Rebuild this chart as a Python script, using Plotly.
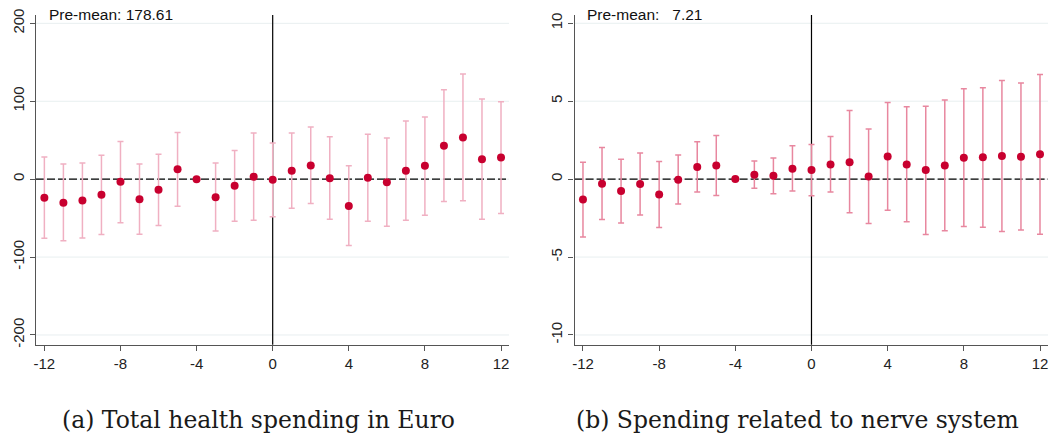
import plotly.graph_objects as go

# ---- data ----
periods = list(range(-12, 13))

total_coef = [-24.0, -30.4, -27.4, -20.1, -3.4, -25.7, -13.7, 12.8, 0.0, -23.1, -8.6, 3.0, -0.9,
              10.7, 17.6, 1.3, -34.3, 1.7, -3.9, 10.7, 17.1, 42.8, 53.5, 25.7, 27.8]
total_hi = [28.3, 19.3, 20.6, 30.8, 48.4, 19.3, 32.1, 60.0, 0.0, 20.6, 36.8, 59.1, 46.3,
            59.1, 66.8, 54.4, 17.1, 57.8, 52.7, 74.5, 79.7, 114.8, 134.9, 102.8, 99.4]
total_lo = [-75.8, -79.2, -75.4, -71.1, -55.8, -70.7, -59.5, -34.7, 0.0, -66.4, -54.0, -52.7, -48.4,
            -37.3, -31.3, -51.4, -85.2, -54.0, -60.4, -52.7, -46.3, -28.7, -27.8, -51.4, -44.1]

nerve_coef = [-1.30, -0.30, -0.77, -0.32, -0.98, -0.04, 0.77, 0.88, 0.0, 0.28, 0.21, 0.66, 0.58,
              0.94, 1.09, 0.17, 1.45, 0.94, 0.58, 0.88, 1.37, 1.41, 1.48, 1.43, 1.60]
nerve_hi = [1.09, 2.03, 1.28, 1.67, 1.13, 1.54, 2.40, 2.80, 0.0, 1.16, 1.35, 2.14, 2.22,
            2.74, 4.41, 3.21, 4.92, 4.64, 4.68, 5.07, 5.80, 5.86, 6.33, 6.16, 6.72]
nerve_lo = [-3.72, -2.59, -2.82, -2.31, -3.10, -1.60, -0.83, -1.05, 0.0, -0.58, -0.94, -0.77, -1.07,
            -0.83, -2.16, -2.84, -1.99, -2.74, -3.55, -3.32, -3.04, -3.08, -3.36, -3.27, -3.53]

x_ticks = [-12, -8, -4, 0, 4, 8, 12]
x_tick_text = ["-12", "-8", "-4", "0", "4", "8", "12"]
y_ticks_a = [-200, -100, 0, 100, 200]
y_tick_text_a = ["-200", "-100", "0", "100", "200"]
y_ticks_b = [-10, -5, 0, 5, 10]
y_tick_text_b = ["-10", "-5", "0", "5", "10"]

captions = ["(a) Total health spending in Euro", "(b) Spending related to nerve system"]
premeans = ["Pre-mean: 178.61", "Pre-mean:   7.21"]

W, H = 1055, 436
DOT = "#c8002f"
ERR_A = "#f0b0c2"
ERR_B = "#e8879f"
GRID = "#e8eff0"

fig = go.Figure()

def add_panel(coef, hi, lo, xa, ya, errcol):
    xs, ys, up, dn = [], [], [], []
    for p, c, h, l in zip(periods, coef, hi, lo):
        xs.append(p); ys.append(c)
        up.append(h - c if h != 0 or l != 0 else 0)
        dn.append(c - l if h != 0 or l != 0 else 0)
    fig.add_trace(go.Scatter(
        x=xs, y=ys, mode="markers", xaxis=xa, yaxis=ya, cliponaxis=False,
        marker=dict(color=DOT, size=8),
        error_y=dict(type="data", symmetric=False, array=up, arrayminus=dn,
                     color=errcol, thickness=1.5, width=3),
        showlegend=False, hoverinfo="skip"))

add_panel(total_coef, total_hi, total_lo, "x", "y", ERR_A)
add_panel(nerve_coef, nerve_hi, nerve_lo, "x2", "y2", ERR_B)

ytop, ybot = 15, 344.8
yd = [1 - ybot / H, 1 - ytop / H]
axfont = dict(family="Liberation Sans, Arial, sans-serif", size=15, color="#222")

common_x = dict(range=[-12.44, 12.42], tickvals=x_ticks, ticktext=x_tick_text, showgrid=False,
                zeroline=False, showline=True, linecolor="#555", linewidth=1.3, ticks="outside",
                ticklen=5, tickcolor="#555", tickfont=axfont, automargin=False)
common_y = dict(showgrid=False, zeroline=False,
                showline=True, linecolor="#555", linewidth=1.3, ticks="outside", ticklen=5,
                tickcolor="#555", tickangle=-90, tickfont=axfont, automargin=False)

fig.update_layout(
    width=W, height=H, margin=dict(l=0, r=0, t=0, b=0, autoexpand=False),
    paper_bgcolor="white", plot_bgcolor="white",
    xaxis=dict(domain=[36 / W, 509 / W], anchor="y", **common_x),
    yaxis=dict(domain=yd, anchor="x", range=[-212.6, 210.7], tickvals=y_ticks_a,
               ticktext=y_tick_text_a, **common_y),
    xaxis2=dict(domain=[574.6 / W, 1048 / W], anchor="y2", **common_x),
    yaxis2=dict(domain=yd, anchor="x2", range=[-10.63, 10.53], tickvals=y_ticks_b,
                ticktext=y_tick_text_b, **common_y),
)

for xr, yr, yt in [("x", "y", y_ticks_a), ("x2", "y2", y_ticks_b)]:
    # light horizontal grid at the y ticks
    for v in yt:
        fig.add_shape(type="line", xref=f"{xr} domain", yref=yr, x0=0, x1=1, y0=v, y1=v,
                      line=dict(color=GRID, width=1), layer="below")
    # dashed zero line
    fig.add_shape(type="line", xref=f"{xr} domain", yref=yr, x0=0, x1=1, y0=0, y1=0,
                  line=dict(color="black", width=1.3, dash="8px,3px"), layer="below")
    # vertical event line
    fig.add_shape(type="line", xref=xr, yref=f"{yr} domain", x0=0, x1=0, y0=0, y1=1,
                  line=dict(color="black", width=1.2), layer="below")

# pre-mean labels
for xr, yr, txt in [("x", "y", premeans[0]), ("x2", "y2", premeans[1])]:
    fig.add_annotation(text=txt, xref=f"{xr} domain", yref=f"{yr} domain", x=0.023, y=1.0,
                       xanchor="left", yanchor="middle", showarrow=False,
                       font=dict(family="Liberation Sans, Arial, sans-serif", size=15.5, color="#111"))

# captions
capfont = dict(family="DejaVu Serif, Liberation Serif, serif", size=23.5, color="#1a1a1a")
fig.add_annotation(text=captions[0], xref="paper", yref="paper", x=258 / W, y=1 - 420 / H,
                   xanchor="center", yanchor="middle", showarrow=False, font=capfont)
fig.add_annotation(text=captions[1], xref="paper", yref="paper", x=797 / W, y=1 - 420 / H,
                   xanchor="center", yanchor="middle", showarrow=False, font=capfont)

fig.write_html("out.html", config={"displayModeBar": False},
               post_script="document.body.style.margin='0';document.body.style.overflow='hidden';")
